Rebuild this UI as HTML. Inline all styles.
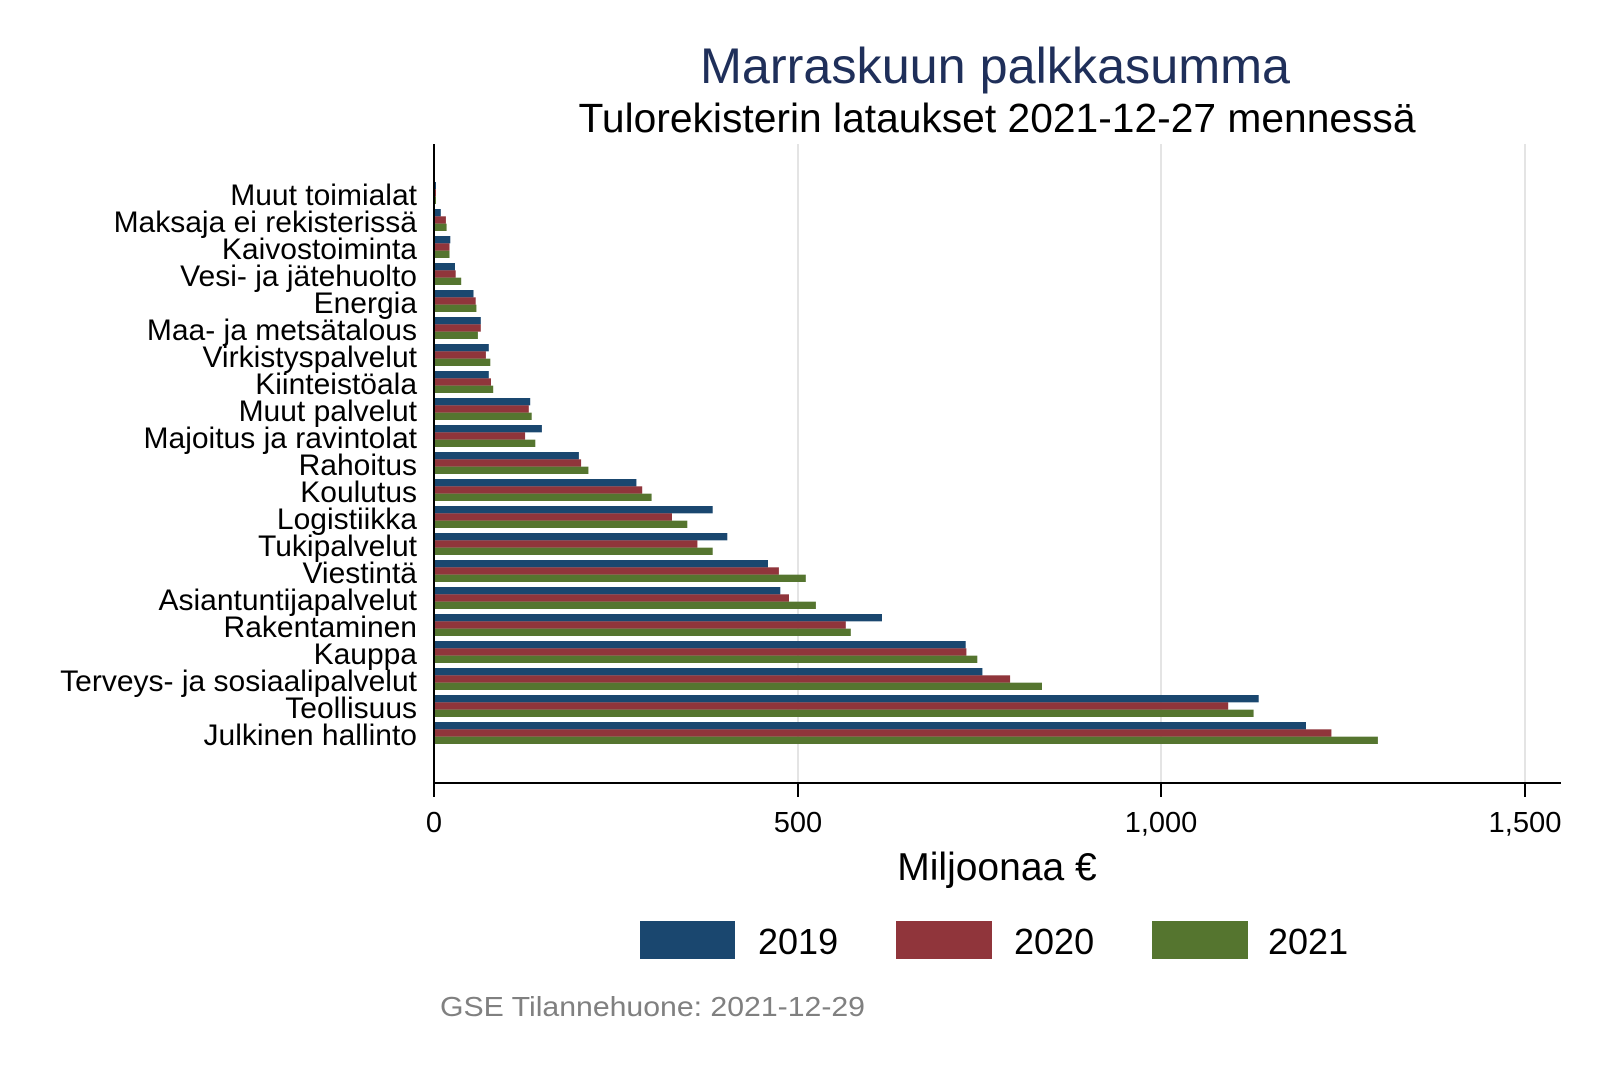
<!DOCTYPE html>
<html><head><meta charset="utf-8"><style>
html,body{margin:0;padding:0;background:#fff;}
svg{display:block;font-family:"Liberation Sans",Arial,sans-serif;}
</style></head><body>
<svg width="1600" height="1067" viewBox="0 0 1600 1067" xmlns="http://www.w3.org/2000/svg">
<rect width="1600" height="1067" fill="#fff"/>
<text x="995" y="83" font-size="50" fill="#1f2f5a" text-anchor="middle" textLength="590" lengthAdjust="spacingAndGlyphs">Marraskuun palkkasumma</text>
<text x="997" y="132" font-size="41" fill="#000" text-anchor="middle" textLength="837" lengthAdjust="spacingAndGlyphs">Tulorekisterin lataukset 2021-12-27 mennessä</text>
<g stroke="#dcdcdc" stroke-width="1.5">
<line x1="798" y1="144" x2="798" y2="783"/>
<line x1="1161" y1="144" x2="1161" y2="783"/>
<line x1="1525" y1="144" x2="1525" y2="783"/>
</g>
<g id="bars">
<g transform="translate(435,182)"><rect y="0" width="1" height="7.33" fill="#1a476f"/><rect y="7.33" width="1" height="7.33" fill="#90353b"/><rect y="14.67" width="1" height="7.33" fill="#55752f"/></g>
<g transform="translate(435,209)"><rect y="0" width="5.8" height="7.33" fill="#1a476f"/><rect y="7.33" width="10.9" height="7.33" fill="#90353b"/><rect y="14.67" width="11.6" height="7.33" fill="#55752f"/></g>
<g transform="translate(435,236)"><rect y="0" width="15.3" height="7.33" fill="#1a476f"/><rect y="7.33" width="14.5" height="7.33" fill="#90353b"/><rect y="14.67" width="14.5" height="7.33" fill="#55752f"/></g>
<g transform="translate(435,263)"><rect y="0" width="20" height="7.33" fill="#1a476f"/><rect y="7.33" width="20.7" height="7.33" fill="#90353b"/><rect y="14.67" width="26.2" height="7.33" fill="#55752f"/></g>
<g transform="translate(435,290)"><rect y="0" width="38.5" height="7.33" fill="#1a476f"/><rect y="7.33" width="40.7" height="7.33" fill="#90353b"/><rect y="14.67" width="41.4" height="7.33" fill="#55752f"/></g>
<g transform="translate(435,317)"><rect y="0" width="45.8" height="7.33" fill="#1a476f"/><rect y="7.33" width="45.8" height="7.33" fill="#90353b"/><rect y="14.67" width="42.9" height="7.33" fill="#55752f"/></g>
<g transform="translate(435,344)"><rect y="0" width="53.8" height="7.33" fill="#1a476f"/><rect y="7.33" width="50.9" height="7.33" fill="#90353b"/><rect y="14.67" width="55.3" height="7.33" fill="#55752f"/></g>
<g transform="translate(435,371)"><rect y="0" width="53.8" height="7.33" fill="#1a476f"/><rect y="7.33" width="56" height="7.33" fill="#90353b"/><rect y="14.67" width="58.2" height="7.33" fill="#55752f"/></g>
<g transform="translate(435,398)"><rect y="0" width="95.2" height="7.33" fill="#1a476f"/><rect y="7.33" width="93.8" height="7.33" fill="#90353b"/><rect y="14.67" width="96.7" height="7.33" fill="#55752f"/></g>
<g transform="translate(435,425)"><rect y="0" width="106.9" height="7.33" fill="#1a476f"/><rect y="7.33" width="90.1" height="7.33" fill="#90353b"/><rect y="14.67" width="100.3" height="7.33" fill="#55752f"/></g>
<g transform="translate(435,452)"><rect y="0" width="143.9" height="7.33" fill="#1a476f"/><rect y="7.33" width="146.1" height="7.33" fill="#90353b"/><rect y="14.67" width="153.4" height="7.33" fill="#55752f"/></g>
<g transform="translate(435,479)"><rect y="0" width="201.4" height="7.33" fill="#1a476f"/><rect y="7.33" width="207.2" height="7.33" fill="#90353b"/><rect y="14.67" width="216.6" height="7.33" fill="#55752f"/></g>
<g transform="translate(435,506)"><rect y="0" width="277.7" height="7.33" fill="#1a476f"/><rect y="7.33" width="237" height="7.33" fill="#90353b"/><rect y="14.67" width="252.3" height="7.33" fill="#55752f"/></g>
<g transform="translate(435,533)"><rect y="0" width="292.3" height="7.33" fill="#1a476f"/><rect y="7.33" width="262.4" height="7.33" fill="#90353b"/><rect y="14.67" width="277.7" height="7.33" fill="#55752f"/></g>
<g transform="translate(435,560)"><rect y="0" width="333" height="7.33" fill="#1a476f"/><rect y="7.33" width="343.9" height="7.33" fill="#90353b"/><rect y="14.67" width="370.8" height="7.33" fill="#55752f"/></g>
<g transform="translate(435,587)"><rect y="0" width="345.3" height="7.33" fill="#1a476f"/><rect y="7.33" width="354" height="7.33" fill="#90353b"/><rect y="14.67" width="380.9" height="7.33" fill="#55752f"/></g>
<g transform="translate(435,614)"><rect y="0" width="447" height="7.33" fill="#1a476f"/><rect y="7.33" width="410.8" height="7.33" fill="#90353b"/><rect y="14.67" width="415.8" height="7.33" fill="#55752f"/></g>
<g transform="translate(435,641)"><rect y="0" width="530.7" height="7.33" fill="#1a476f"/><rect y="7.33" width="531.4" height="7.33" fill="#90353b"/><rect y="14.67" width="542.3" height="7.33" fill="#55752f"/></g>
<g transform="translate(435,668)"><rect y="0" width="547.4" height="7.33" fill="#1a476f"/><rect y="7.33" width="575.1" height="7.33" fill="#90353b"/><rect y="14.67" width="607" height="7.33" fill="#55752f"/></g>
<g transform="translate(435,695)"><rect y="0" width="823.7" height="7.33" fill="#1a476f"/><rect y="7.33" width="793.2" height="7.33" fill="#90353b"/><rect y="14.67" width="818.6" height="7.33" fill="#55752f"/></g>
<g transform="translate(435,722)"><rect y="0" width="871" height="7.33" fill="#1a476f"/><rect y="7.33" width="896.4" height="7.33" fill="#90353b"/><rect y="14.67" width="942.9" height="7.33" fill="#55752f"/></g>
</g>
<g font-size="30" fill="#000" text-anchor="end">
<text x="417" y="205">Muut toimialat</text>
<text x="417" y="232">Maksaja ei rekisterissä</text>
<text x="417" y="259">Kaivostoiminta</text>
<text x="417" y="286">Vesi- ja jätehuolto</text>
<text x="417" y="313">Energia</text>
<text x="417" y="340">Maa- ja metsätalous</text>
<text x="417" y="367">Virkistyspalvelut</text>
<text x="417" y="394">Kiinteistöala</text>
<text x="417" y="421">Muut palvelut</text>
<text x="417" y="448">Majoitus ja ravintolat</text>
<text x="417" y="475">Rahoitus</text>
<text x="417" y="502">Koulutus</text>
<text x="417" y="529">Logistiikka</text>
<text x="417" y="556">Tukipalvelut</text>
<text x="417" y="583">Viestintä</text>
<text x="417" y="610">Asiantuntijapalvelut</text>
<text x="417" y="637">Rakentaminen</text>
<text x="417" y="664">Kauppa</text>
<text x="417" y="691">Terveys- ja sosiaalipalvelut</text>
<text x="417" y="718">Teollisuus</text>
<text x="417" y="745">Julkinen hallinto</text>
</g>
<g stroke="#000" stroke-width="2">
<line x1="434" y1="144" x2="434" y2="784"/>
<line x1="433" y1="783" x2="1561" y2="783"/>
<line x1="434" y1="783" x2="434" y2="797"/>
<line x1="798" y1="783" x2="798" y2="797"/>
<line x1="1161" y1="783" x2="1161" y2="797"/>
<line x1="1525" y1="783" x2="1525" y2="797"/>
</g>
<g font-size="29" fill="#000" text-anchor="middle">
<text x="434" y="832">0</text>
<text x="798" y="832">500</text>
<text x="1161" y="832">1,000</text>
<text x="1525" y="832" textLength="73" lengthAdjust="spacingAndGlyphs">1,500</text>
</g>
<text x="997" y="880" font-size="39" text-anchor="middle" fill="#000">Miljoonaa €</text>
<rect x="640" y="921" width="95" height="38" fill="#1a476f"/>
<rect x="896" y="921" width="96" height="38" fill="#90353b"/>
<rect x="1152" y="921" width="96" height="38" fill="#55752f"/>
<g font-size="36" fill="#000">
<text x="758" y="954">2019</text>
<text x="1014" y="954">2020</text>
<text x="1268" y="954">2021</text>
</g>
<text x="440" y="1016" font-size="28" fill="#808080" textLength="425" lengthAdjust="spacingAndGlyphs">GSE Tilannehuone: 2021-12-29</text>
</svg>
</body></html>
